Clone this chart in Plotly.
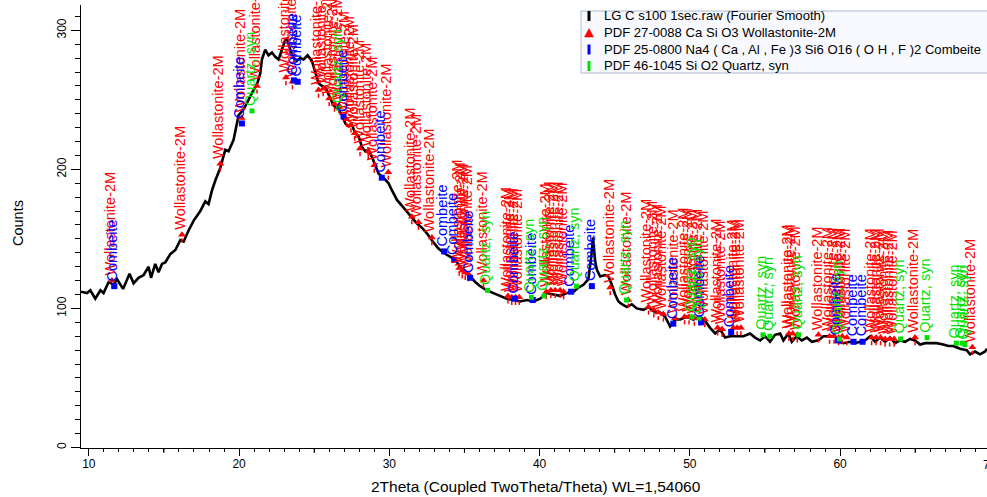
import plotly.graph_objects as go

# ---------------- measured pattern (Fourier smoothed) ----------------
two_theta = [9.48, 9.88, 10.10, 10.43, 10.77, 10.98, 11.32, 11.65, 11.88, 12.28, 12.71, 12.98, 13.31,
             13.65, 13.98, 14.14, 14.42, 14.64, 14.87, 15.09, 15.42, 15.76, 16.09, 16.31, 16.64, 16.97,
             17.42, 17.75, 17.97, 18.20, 18.42, 18.75, 19.08, 19.30, 19.63, 19.86, 19.97, 20.30, 20.53,
             20.75, 20.96, 21.19, 21.41, 21.52, 21.74, 21.96, 22.19, 22.41, 22.63, 22.85, 23.07, 23.19,
             23.41, 23.63, 23.85, 24.07, 24.29, 24.56, 24.85, 25.07, 25.29, 25.52, 25.74, 25.95, 26.29,
             26.62, 26.85, 27.07, 27.29, 27.51, 27.73, 27.95, 28.18, 28.40, 28.62, 28.84, 29.06, 29.28,
             29.61, 29.95, 30.17, 30.51, 31.06, 31.39, 31.84, 32.17, 32.50, 32.83, 33.27, 33.61, 34.05,
             34.38, 34.72, 35.05, 35.38, 35.72, 36.05, 36.49, 36.93, 37.38, 37.82, 38.26, 38.71, 39.16,
             39.59, 40.04, 40.49, 40.92, 41.37, 41.82, 42.26, 42.59, 42.92, 43.25, 43.45, 43.55, 43.70,
             43.81, 44.03, 44.36, 44.58, 44.81, 45.03, 45.25, 45.48, 45.81, 46.14, 46.47, 46.91, 47.25,
             47.58, 48.02, 48.36, 48.69, 49.02, 49.36, 49.80, 50.24, 50.69, 51.02, 51.35, 51.69, 52.02,
             52.35, 52.68, 53.13, 53.57, 54.01, 54.34, 54.68, 55.01, 55.34, 55.67, 56.01, 56.23, 56.56,
             56.79, 57.12, 57.45, 57.79, 58.12, 58.56, 58.89, 59.34, 59.67, 59.89, 60.22, 60.67, 61.00,
             61.34, 61.67, 62.00, 62.33, 62.66, 63.00, 63.33, 63.66, 64.00, 64.33, 64.66, 64.99, 65.33,
             65.66, 65.99, 66.43, 66.87, 67.21, 67.54, 67.99, 68.43, 68.65, 68.98, 69.32, 69.65, 69.78]
counts = [112, 111, 113, 107, 113, 111, 119, 117, 121, 114, 125, 118, 122,
          124, 130, 122, 132, 126, 132, 133, 139, 142, 149, 148, 156, 163,
          170, 177, 175, 185, 192, 201, 214, 213, 221, 233, 239, 243, 248,
          252, 257, 261, 269, 279, 286, 282, 284, 281, 279, 286, 293, 294,
          286, 280, 278, 280, 279, 282, 278, 270, 262, 260, 259, 254, 246,
          243, 239, 233, 231, 232, 226, 224, 216, 213, 214, 209, 203, 197,
          194, 190, 185, 178, 171, 167, 161, 158, 154, 149, 143, 140, 137,
          135, 130, 127, 123, 119, 116, 113, 111, 109, 107, 106, 105, 106,
          105, 107, 111, 110, 109, 111, 112, 115, 117, 121, 138, 151, 134,
          128, 123, 124, 123, 117, 110, 105, 103, 101, 103, 100, 99, 101,
          98, 97, 94, 87, 92, 92, 94, 92, 94, 91, 86, 82, 85,
          79, 80, 80, 80, 82, 79, 77, 80, 76, 81, 82, 77, 82,
          76, 80, 77, 79, 76, 77, 80, 80, 80, 76, 75, 76, 75,
          76, 77, 80, 76, 79, 76, 79, 75, 77, 76, 78, 77, 74,
          75, 75, 75, 74, 73, 73, 71, 70, 67, 69, 67, 69, 71]

# ---------------- reference patterns ----------------
woll_name = "Wollastonite-2M"
woll_pos = [11.54, 16.2, 18.75, 20.17, 21.19, 23.12, 23.55, 25.29, 25.6, 26.0, 26.35, 26.65, 27.15,
            27.45, 27.7, 28.05, 28.6, 29.0, 29.93, 31.5, 31.94, 32.83, 34.65, 34.85, 35.05, 35.25,
            36.27, 37.9, 38.15, 38.4, 38.65, 40.45, 40.75, 41.04, 41.37, 41.6, 44.7, 45.9, 47.25,
            47.6, 47.9, 48.24, 49.02, 49.65, 49.95, 50.3, 50.65, 51.0, 51.85, 52.15, 52.9, 53.15,
            53.4, 56.6, 56.85, 57.15, 58.56, 59.3, 59.6, 59.9, 60.15, 60.45, 62.1, 62.4, 62.7,
            63.0, 63.3, 63.6, 64.99, 68.8]
woll_cnt = [120, 153, 204, 237, 260, 266, 263, 257, 258, 251, 247, 246, 236,
            232, 226, 215, 213, 203, 198, 166, 162, 151, 129, 127, 126, 125,
            120, 109, 108, 108, 108, 112, 113, 113, 113, 112, 115, 106, 101,
            99, 97, 96, 93, 94, 94, 93, 93, 92, 86, 85, 86, 86,
            86, 82, 82, 81, 81, 80, 80, 79, 80, 79, 79, 79, 79,
            78, 78, 78, 79, 72]

comb_name = "Combeite"
comb_pos = [11.7, 20.19, 23.65, 23.9, 26.95, 29.5, 33.65, 34.32, 35.38, 38.35, 39.55, 42.1, 43.48,
            48.9, 50.75, 52.75, 59.85, 60.9, 61.5]
comb_cnt = [116, 233, 264, 263, 238, 194, 141, 135, 122, 107, 106, 112, 116,
            89, 90, 83, 77, 76, 76]

qtz_name = "Quartz, syn"
qtz_pos = [20.86, 26.64, 36.54, 39.46, 40.29, 42.45, 45.79, 50.14, 50.62, 54.87, 55.33, 57.24, 59.96,
           64.03, 65.79, 67.74, 68.14, 68.31]
qtz_cnt = [242, 244, 113, 108, 109, 116, 106, 94, 93, 81, 80, 81, 78,
           78, 79, 75, 75, 74]

legend_labels = ["LG C s100 1sec.raw (Fourier Smooth)",
                 "PDF 27-0088 Ca Si O3 Wollastonite-2M",
                 "PDF 25-0800 Na4 ( Ca , Al , Fe )3 Si6 O16 ( O H , F )2 Combeite",
                 "PDF 46-1045 Si O2 Quartz, syn"]

x_ticks = [10, 20, 30, 40, 50, 60, 70]
x_half_ticks = [15, 25, 35, 45, 55, 65]
y_ticks = [0, 100, 200, 300]

# ---------------- styling ----------------
W, H = 987, 497
M_L, M_R, M_T, M_B = 81, 0, 5, 49
X_RANGE = [9.48, 69.78]
Y_RANGE = [-0.4, 318.2]
RED, BLUE, GREEN = "#ff0000", "#0000ff", "#00e000"
SANS = "Liberation Sans, Arial, sans-serif"

plot_w = W - M_L - M_R
plot_h = H - M_T - M_B


def px_x(px):
    return (px - M_L) / plot_w


def px_y(py):
    return (H - M_B - py) / plot_h


fig = go.Figure()

fig.add_trace(go.Scatter(x=two_theta, y=counts, mode="lines",
                         line=dict(color="black", width=2.6),
                         hoverinfo="skip", showlegend=False))

# short stick marks under the triangles
fig.add_trace(go.Scatter(x=woll_pos, y=[c - 4 for c in woll_cnt], mode="markers",
                         marker=dict(symbol="line-ns", size=3, line=dict(color=RED, width=1.5)),
                         hoverinfo="skip", showlegend=False))
fig.add_trace(go.Scatter(x=woll_pos, y=woll_cnt, mode="markers",
                         marker=dict(symbol="triangle-up", size=7, color=RED),
                         hoverinfo="skip", showlegend=False))
fig.add_trace(go.Scatter(x=comb_pos, y=comb_cnt, mode="markers",
                         marker=dict(symbol="square", size=6, color=BLUE),
                         hoverinfo="skip", showlegend=False))
fig.add_trace(go.Scatter(x=qtz_pos, y=qtz_cnt, mode="markers",
                         marker=dict(symbol="square", size=5, color=GREEN),
                         hoverinfo="skip", showlegend=False))

annotations = []


def phase_labels(pos, cnt, name, color):
    for p, c in zip(pos, cnt):
        annotations.append(dict(x=p, y=c, xref="x", yref="y", text=name, textangle=-90,
                                showarrow=False, xanchor="center", yanchor="bottom",
                                xshift=-2, yshift=4, borderpad=0,
                                font=dict(family=SANS, size=14.5, color=color)))


phase_labels(woll_pos, woll_cnt, woll_name, RED)
phase_labels(comb_pos, comb_cnt, comb_name, BLUE)
phase_labels(qtz_pos, qtz_cnt, qtz_name, GREEN)

# axis titles
annotations.append(dict(x=px_x(18), y=px_y(223), xref="paper", yref="paper", text="Counts",
                        textangle=-90, showarrow=False, xanchor="center", yanchor="middle",
                        font=dict(family=SANS, size=14.5, color="black")))
annotations.append(dict(x=px_x(536), y=px_y(486), xref="paper", yref="paper",
                        text="2Theta (Coupled TwoTheta/Theta) WL=1,54060",
                        showarrow=False, xanchor="center", yanchor="middle",
                        font=dict(family=SANS, size=15.5, color="black")))
# last x tick label sits on the right border
annotations.append(dict(x=(x_ticks[-1] - X_RANGE[0]) / (X_RANGE[1] - X_RANGE[0]), y=0,
                        xref="paper", yref="paper", text=str(x_ticks[-1]), showarrow=False,
                        xanchor="center", yanchor="top", yshift=-8,
                        font=dict(family=SANS, size=12, color="black")))

shapes = []
# medium-length ticks at the half decades
for v in x_half_ticks:
    shapes.append(dict(type="line", xref="x", yref="paper", x0=v, x1=v,
                       ysizemode="pixel", yanchor=0, y0=0, y1=-5,
                       line=dict(color="black", width=1)))

# legend box
shapes.append(dict(type="rect", xref="paper", yref="paper", x0=px_x(581), x1=px_x(995),
                   y0=px_y(73), y1=px_y(11), fillcolor="#f8f9fe",
                   line=dict(color="#aeb8cc", width=1), layer="above"))
rows = [16, 33, 49.5, 66]
sym_x = 589
for i, (label, row) in enumerate(zip(legend_labels, rows)):
    if i == 1:
        shapes.append(dict(type="path", xref="paper", yref="paper",
                           path=f"M {px_x(sym_x - 4.5)},{px_y(row + 4)} L {px_x(sym_x + 4.5)},{px_y(row + 4)} "
                                f"L {px_x(sym_x)},{px_y(row - 4.5)} Z",
                           fillcolor=RED, line=dict(color=RED, width=0.5), layer="above"))
    else:
        col = ["black", None, BLUE, GREEN][i]
        shapes.append(dict(type="rect", xref="paper", yref="paper",
                           x0=px_x(sym_x - 1.5), x1=px_x(sym_x + 1.5),
                           y0=px_y(row + 5), y1=px_y(row - 5),
                           fillcolor=col, line=dict(width=0), layer="above"))
    annotations.append(dict(x=px_x(602), y=px_y(row), xref="paper", yref="paper", text=label,
                            showarrow=False, xanchor="left", yanchor="middle",
                            font=dict(family=SANS, size=13.1, color="black")))

fig.update_layout(
    width=W, height=H,
    margin=dict(l=M_L, r=M_R, t=M_T, b=M_B, pad=0),
    paper_bgcolor="white", plot_bgcolor="white",
    showlegend=False,
    annotations=annotations,
    shapes=shapes,
    xaxis=dict(range=X_RANGE, showgrid=False, zeroline=False,
               showline=True, linecolor="black", linewidth=1,
               ticks="outside", ticklen=7, tickcolor="black", tickwidth=1,
               tickvals=x_ticks[:-1], ticktext=[str(v) for v in x_ticks[:-1]],
               ticklabelstandoff=-2,
               tickfont=dict(family=SANS, size=12, color="black"),
               minor=dict(dtick=1, tick0=0, ticks="outside", ticklen=3,
                          tickcolor="black", tickwidth=1)),
    yaxis=dict(range=Y_RANGE, showgrid=False, zeroline=False,
               showline=True, linecolor="black", linewidth=1,
               ticks="outside", ticklen=9, tickcolor="black", tickwidth=1,
               tickvals=y_ticks, ticktext=[str(v) for v in y_ticks], tickangle=-90,
               tickfont=dict(family=SANS, size=12, color="black"),
               minor=dict(dtick=10, tick0=0, ticks="outside", ticklen=5,
                          tickcolor="black", tickwidth=1)),
)

fig.write_html("out.html")
